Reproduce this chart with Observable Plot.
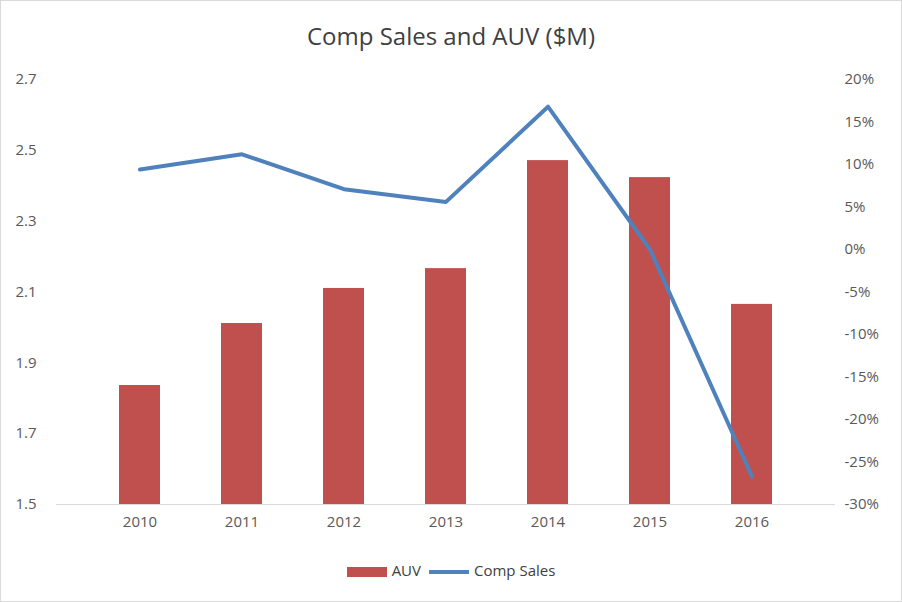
<!DOCTYPE html>
<html><head><meta charset="utf-8">
<script src="https://cdn.jsdelivr.net/npm/d3@7"></script>
<script src="https://cdn.jsdelivr.net/npm/@observablehq/plot@0.6"></script>
<style>
body{margin:0;background:#fff;font-family:"Open Sans",sans-serif;}
#wrap{width:900px;height:600px;border:1px solid #d9d9d9;position:relative;}
#title{position:absolute;top:18px;width:100%;text-align:center;font-size:24px;color:#404040;}
#chart{position:absolute;top:60px;left:0;}
#legend{position:absolute;top:559px;width:100%;text-align:center;font-size:15px;color:#404040;}
.sw{display:inline-block;vertical-align:middle;margin-right:5px;}
</style></head><body>
<div id="wrap"><div id="title">Comp Sales and AUV ($M)</div><div id="chart"></div>
<div id="legend"><span class="sw" style="width:40px;height:10px;background:#c0504d"></span>AUV<span style="display:inline-block;width:8px"></span><span class="sw" style="width:40px;height:4px;background:#4f81bd"></span>Comp Sales</div></div>
<script>
const years=["2010","2011","2012","2013","2014","2015","2016"];
const auv=[1.836,2.011,2.11,2.166,2.471,2.423,2.065];
const comp=[0.094,0.112,0.071,0.056,0.168,0.0,-0.267];
const leftTicks=[1.5,1.7,1.9,2.1,2.3,2.5,2.7];
const rightTicks=[-0.30,-0.25,-0.20,-0.15,-0.10,-0.05,0,0.05,0.10,0.15,0.20];
const toLeft=v=>1.5+(v+0.30)/0.5*1.2;
const fromLeft=y=>(y-1.5)/1.2*0.5-0.30;
const data=years.map((y,i)=>({year:y,auv:auv[i],comp:comp[i]}));
const chart=Plot.plot({
  width:900,height:470,marginTop:18,marginBottom:27,marginLeft:55,marginRight:66,
  style:{fontFamily:"Open Sans",fontSize:"15px",color:"#595959"},
  x:{domain:years,padding:0.6,label:null,tickSize:0},
  y:{domain:[1.5,2.7],label:null},
  marks:[
    Plot.barY(data,{x:"year",y1:1.5,y2:"auv",fill:"#c0504d"}),
    Plot.ruleY([1.5],{stroke:"#d9d9d9"}),
    Plot.line(data,{x:"year",y:d=>toLeft(d.comp),stroke:"#4f81bd",strokeWidth:4}),
    Plot.axisY(leftTicks,{anchor:"left",tickSize:0,tickFormat:d=>d3.format(".1f")(d),label:null,tickPadding:20}),
    Plot.axisY(rightTicks.map(toLeft),{anchor:"right",tickSize:0,tickFormat:d=>Math.round(fromLeft(d)*100)+"%",label:null,tickPadding:9}),
    Plot.axisX({tickSize:0,tickPadding:12,label:null})
  ]
});
document.getElementById("chart").appendChild(chart);
</script></body></html>
